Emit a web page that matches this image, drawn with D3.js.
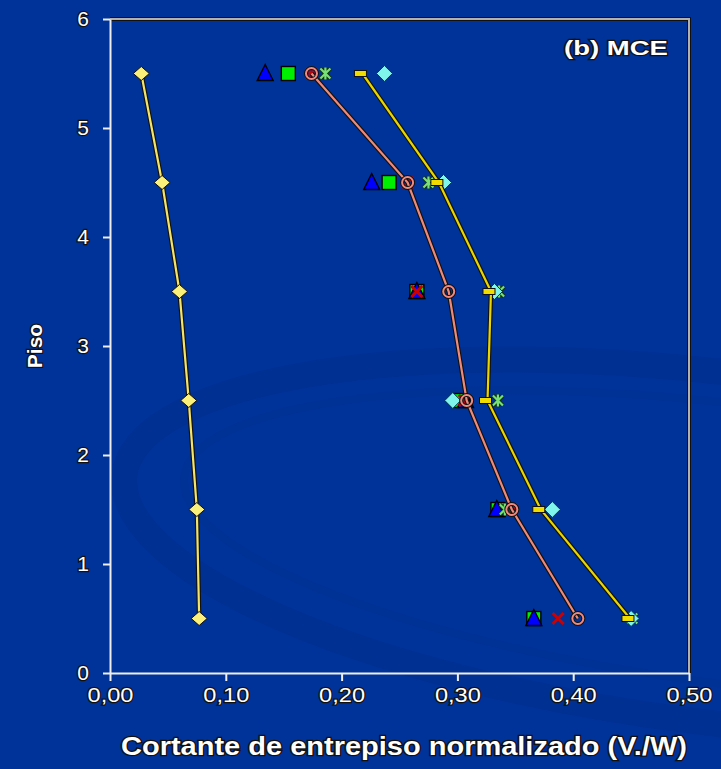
<!DOCTYPE html>
<html><head><meta charset="utf-8">
<script src="https://cdn.jsdelivr.net/npm/d3@7"></script>
<style>
html,body{margin:0;padding:0;background:#003399;}
svg{display:block;}
text{font-family:"Liberation Sans",Arial,sans-serif;}
</style></head>
<body>
<script>
// ---- data ----
const floors = [5.5, 4.5, 3.5, 2.5, 1.5, 0.5];
const xTicks = [0, 0.1, 0.2, 0.3, 0.4, 0.5];
const yTicks = [0, 1, 2, 3, 4, 5, 6];
const yellowDiamondLine = [0.027, 0.045, 0.060, 0.068, 0.075, 0.077];
const salmonCircleLine  = [0.174, 0.257, 0.2925, 0.308, 0.347, 0.404];
const yellowDashLine    = [0.218, 0.284, 0.329, 0.326, 0.372, 0.449];
const cyanDiamonds      = [0.237, 0.288, 0.332, 0.296, 0.382, 0.450];
const greenStars        = [0.186, 0.275, 0.336, 0.335, 0.341, 0.451];
const redCrosses        = [0.174, 0.257, 0.265, 0.306, 0.347, 0.387];
const greenSquares      = [0.154, 0.241, 0.265, 0.302, 0.335, 0.366];
const blueTriangles     = [0.134, 0.226, 0.265, 0.307, 0.334, 0.366];
const panelLabel = "(b) MCE";
const xTitle = "Cortante de entrepiso normalizado (V./W)";
const yTitle = "Piso";

const W = 721, H = 769;
const svg = d3.select("body").append("svg").attr("width", W).attr("height", H);
svg.append("rect").attr("width", W).attr("height", H).attr("fill", "#003399");

// background swoosh
const bg = svg.append("g");
bg.append("ellipse").attr("cx", 720).attr("cy", 548).attr("rx", 600).attr("ry", 175)
  .attr("transform", "rotate(7,720,548)")
  .attr("fill", "none").attr("stroke", "#002d8c").attr("stroke-width", 26).attr("opacity", 0.55);
bg.append("ellipse").attr("cx", 740).attr("cy", 545).attr("rx", 560).attr("ry", 140)
  .attr("transform", "rotate(7,740,545)")
  .attr("fill", "none").attr("stroke", "#00308f").attr("stroke-width", 8).attr("opacity", 0.5);

const x = d3.scaleLinear().domain([0, 0.5]).range([110, 689]);
const y = d3.scaleLinear().domain([0, 6]).range([673, 19]);
const fmt = d => d3.format(".2f")(d).replace(".", ",");

// plot frame (top + right)
const frame = svg.append("g");
frame.append("path").attr("d", `M${x(0)},${y(6)}H${x(0.5)}V${y(0)}`)
  .attr("fill", "none").attr("stroke", "#111").attr("stroke-width", 4);
frame.append("path").attr("d", `M${x(0)},${y(6)}H${x(0.5)}V${y(0)}`)
  .attr("fill", "none").attr("stroke", "#b0b0b0").attr("stroke-width", 2);

function styleAxis(g) {
  g.selectAll("path.domain").attr("stroke", "#eeeeee").attr("stroke-width", 2);
  g.selectAll(".tick line").attr("stroke", "#eeeeee").attr("stroke-width", 2);
  g.selectAll(".tick text").attr("fill", "#ffffff").attr("font-size", 21)
    .attr("stroke", "#111").attr("stroke-width", 2.4).attr("paint-order", "stroke")
    .attr("font-family", "'Liberation Sans', Arial, sans-serif");
}
const xAxis = svg.append("g").attr("transform", `translate(0,${y(0)})`)
  .call(d3.axisBottom(x).tickValues(xTicks).tickFormat(fmt).tickSizeInner(8).tickSizeOuter(0).tickPadding(6));
xAxis.call(styleAxis);
xAxis.selectAll(".tick text").attr("textLength", 46).attr("lengthAdjust", "spacingAndGlyphs");
const yAxis = svg.append("g").attr("transform", `translate(${x(0)},0)`)
  .call(d3.axisLeft(y).tickValues(yTicks).tickFormat(d3.format("d")).tickSizeInner(7).tickSizeOuter(0).tickPadding(14));
yAxis.call(styleAxis);

// titles
svg.append("text").attr("x", 404).attr("y", 755).attr("text-anchor", "middle")
  .attr("font-size", 25).attr("font-weight", "bold").attr("fill", "#fff")
  .attr("textLength", 566).attr("lengthAdjust", "spacingAndGlyphs")
  .attr("stroke", "#111").attr("stroke-width", 2.6).attr("paint-order", "stroke").text(xTitle);
svg.append("text").attr("transform", "translate(42,346) rotate(-90)").attr("text-anchor", "middle")
  .attr("font-size", 21).attr("font-weight", "bold").attr("fill", "#fff")
  .attr("stroke", "#111").attr("stroke-width", 2.4).attr("paint-order", "stroke").text(yTitle);
svg.append("text").attr("x", 668).attr("y", 55).attr("text-anchor", "end")
  .attr("font-size", 21).attr("font-weight", "bold").attr("fill", "#fff")
  .attr("textLength", 104).attr("lengthAdjust", "spacingAndGlyphs")
  .attr("stroke", "#111").attr("stroke-width", 2.4).attr("paint-order", "stroke").text(panelLabel);

const pts = arr => arr.map((v, i) => ({x: v, y: floors[i]}));
const layer = svg.append("g");

function markers(data, drawFn) {
  const g = layer.append("g");
  pts(data).forEach(p => drawFn(g, x(p.x), y(p.y)));
}
// green squares
markers(greenSquares, (g, cx, cy) => {
  g.append("rect").attr("x", cx-7).attr("y", cy-7).attr("width", 14).attr("height", 14)
    .attr("fill", "#00ee00").attr("stroke", "#000").attr("stroke-width", 1.4);
});
// blue triangles
markers(blueTriangles, (g, cx, cy) => {
  g.append("path").attr("d", `M${cx},${cy-9}L${cx+8},${cy+7}L${cx-8},${cy+7}Z`)
    .attr("fill", "#0000ff").attr("stroke", "#000").attr("stroke-width", 1.4);
});
// red X
markers(redCrosses, (g, cx, cy) => {
  const s = 5.5;
  g.append("path").attr("d", `M${cx-s},${cy-s}L${cx+s},${cy+s}M${cx+s},${cy-s}L${cx-s},${cy+s}`)
    .attr("stroke", "#cc0000").attr("stroke-width", 3).attr("fill", "none");
});
// green stars
markers(greenStars, (g, cx, cy) => {
  const s = 5;
  const d = `M${cx-s},${cy-s}L${cx+s},${cy+s}M${cx+s},${cy-s}L${cx-s},${cy+s}M${cx},${cy-s-1}V${cy+s+1}`;
  g.append("path").attr("d", d).attr("stroke", "#113311").attr("stroke-width", 4).attr("fill", "none");
  g.append("path").attr("d", d).attr("stroke", "#77e077").attr("stroke-width", 2.2).attr("fill", "none");
});
// cyan diamonds
markers(cyanDiamonds, (g, cx, cy) => {
  g.append("path").attr("d", `M${cx},${cy-8}L${cx+8},${cy}L${cx},${cy+8}L${cx-8},${cy}Z`)
    .attr("fill", "#7ff5ec").attr("stroke", "#003355").attr("stroke-width", 1);
});

const line = d3.line().x(d => x(d.x)).y(d => y(d.y));
function lineSeries(data, color) {
  const g = layer.append("g");
  g.append("path").attr("d", line(pts(data))).attr("fill", "none").attr("stroke", "#111").attr("stroke-width", 4.5);
  g.append("path").attr("d", line(pts(data))).attr("fill", "none").attr("stroke", color).attr("stroke-width", 2.2);
  return g;
}
// yellow diamonds line
const gA = lineSeries(yellowDiamondLine, "#f2e46a");
pts(yellowDiamondLine).forEach(p => {
  const cx = x(p.x), cy = y(p.y);
  gA.append("path").attr("d", `M${cx},${cy-7}L${cx+8},${cy}L${cx},${cy+7}L${cx-8},${cy}Z`)
    .attr("fill", "#fbf07a").attr("stroke", "#111").attr("stroke-width", 1);
});
// yellow dash line
const gC = lineSeries(yellowDashLine, "#e8d500");
pts(yellowDashLine).forEach(p => {
  const cx = x(p.x), cy = y(p.y);
  gC.append("rect").attr("x", cx-8).attr("y", cy-3).attr("width", 12).attr("height", 6)
    .attr("fill", "#f0dc00").attr("stroke", "#111").attr("stroke-width", 1);
});
// salmon circle line
const gB = lineSeries(salmonCircleLine, "#ee8a7c");
pts(salmonCircleLine).forEach(p => {
  gB.append("circle").attr("cx", x(p.x)).attr("cy", y(p.y)).attr("r", 5.5)
    .attr("fill", "none").attr("stroke", "#111").attr("stroke-width", 4);
  gB.append("circle").attr("cx", x(p.x)).attr("cy", y(p.y)).attr("r", 5.5)
    .attr("fill", "none").attr("stroke", "#f08a80").attr("stroke-width", 2);
});
</script>
</body></html>
